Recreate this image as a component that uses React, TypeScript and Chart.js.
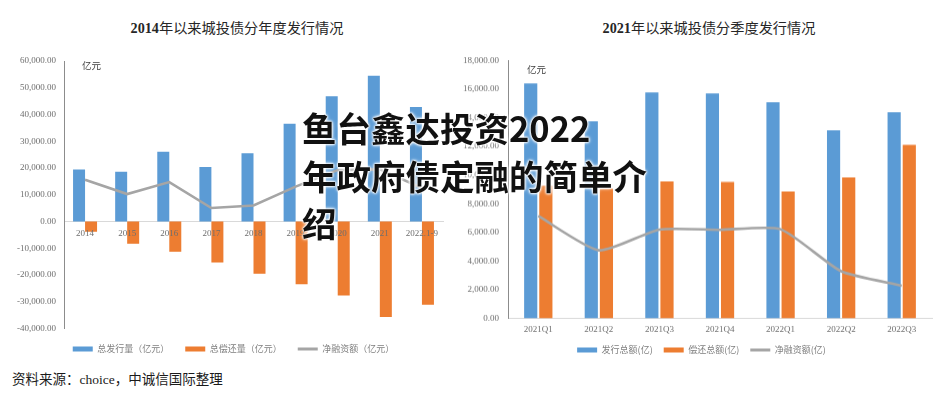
import React, { useEffect, useRef } from 'react';
import { Chart, registerables } from 'chart.js';

Chart.register(...registerables);

// ---------- data ----------
const yearCategories = ['2014', '2015', '2016', '2017', '2018', '2019', '2020', '2021', '2022.1-9'];
const yearIssuance = [19400, 18600, 26100, 20400, 25500, 36500, 46800, 54500, 42800];
const yearRepayment = [-3800, -8350, -11350, -15350, -19500, -23450, -27700, -35700, -31100];
const yearNet = [15600, 10250, 14750, 5050, 6000, 13050, 19200, 19500, 12500];
const yearSeriesNames = ['总发行量（亿元）', '总偿还量（亿元）', '净融资额（亿元）'];

const quarterCategories = ['2021Q1', '2021Q2', '2021Q3', '2021Q4', '2022Q1', '2022Q2', '2022Q3'];
const quarterIssuance = [16400, 13750, 15760, 15690, 15080, 13130, 14380];
const quarterRepayment = [9260, 9050, 9560, 9510, 8860, 9840, 12100];
const quarterNet = [7140, 4750, 6200, 6180, 6220, 3290, 2280];
const quarterSeriesNames = ['发行总额(亿)', '偿还总额(亿)', '净融资额(亿)'];

const BLUE = '#5b9bd5';
const ORANGE = '#ed7d31';
const GRAY = '#a5a5a5';
const TICK_COLOR = '#6e6e6e';
const SERIF = '"Liberation Serif", "Noto Sans CJK SC", serif';
const SANS = '"Noto Sans CJK SC", "Noto Sans", sans-serif';

const fmt = (v: number | string) =>
  Number(v).toLocaleString('en-US', { minimumFractionDigits: 2, maximumFractionDigits: 2 });

function legendLabels(chart: any) {
  const items = Chart.defaults.plugins.legend.labels.generateLabels(chart);
  items.forEach((it: any) => {
    const ds = chart.data.datasets[it.datasetIndex];
    if (ds.type === 'line') {
      it.pointStyle = 'line';
      it.lineWidth = 3;
      it.strokeStyle = GRAY;
      it.fillStyle = GRAY;
    } else {
      it.pointStyle = 'rect';
      it.lineWidth = 0;
      it.fillStyle = ds.backgroundColor;
    }
  });
  return items.sort((a: any, b: any) => a.datasetIndex - b.datasetIndex);
}

function spacer(width: number): any {
  return {
    type: 'linear',
    position: 'right',
    display: true,
    grid: { display: false, drawTicks: false },
    border: { display: false },
    ticks: { display: false },
    afterFit: (s: any) => { s.width = width; },
  };
}

function legendOptions(padding: number): any {
  return {
    position: 'bottom',
    labels: {
      usePointStyle: true,
      pointStyleWidth: 20,
      boxHeight: 5,
      padding,
      color: '#7f7f7f',
      font: { family: SANS, size: 9 },
      generateLabels: legendLabels,
    },
  };
}

function buildYearConfig(): any {
  return {
    type: 'bar',
    data: {
      labels: yearCategories,
      datasets: [
        { type: 'bar', label: yearSeriesNames[0], data: yearIssuance, backgroundColor: BLUE, order: 1, categoryPercentage: 0.57, barPercentage: 1 },
        { type: 'bar', label: yearSeriesNames[1], data: yearRepayment, backgroundColor: ORANGE, order: 1, categoryPercentage: 0.57, barPercentage: 1 },
        { type: 'line', label: yearSeriesNames[2], data: yearNet, borderColor: GRAY, backgroundColor: GRAY, borderWidth: 2.6, pointRadius: 0, tension: 0, fill: false, order: 0 },
      ],
    },
    options: {
      animation: false,
      responsive: true,
      maintainAspectRatio: false,
      layout: { padding: { left: 0, right: 0, top: 21, bottom: 0.5 } },
      plugins: {
        tooltip: { enabled: false },
        title: { display: false },
        legend: legendOptions(16),
      },
      scales: {
        x: {
          position: { y: 0 },
          grid: { display: false, drawTicks: false },
          border: { display: true, color: '#d9d9d9', width: 1 },
          ticks: { z: 1, padding: 7, color: TICK_COLOR, font: { family: SERIF, size: 9 }, maxRotation: 0, autoSkip: false },
        },
        y: {
          min: -40000,
          max: 60000,
          grid: { display: false, drawTicks: false },
          border: { display: true, color: '#8c8c8c', width: 1 },
          ticks: { stepSize: 10000, padding: 8, color: TICK_COLOR, font: { family: SERIF, size: 9 }, callback: (v: number) => fmt(v) },
          afterFit: (s: any) => { s.width = 64; },
        },
        y2: spacer(24),
      },
    },
  };
}

function buildQuarterConfig(): any {
  return {
    type: 'bar',
    data: {
      labels: quarterCategories,
      datasets: [
        { type: 'bar', label: quarterSeriesNames[0], data: quarterIssuance, backgroundColor: BLUE, order: 1, categoryPercentage: 0.5, barPercentage: 0.87 },
        { type: 'bar', label: quarterSeriesNames[1], data: quarterRepayment, backgroundColor: ORANGE, order: 1, categoryPercentage: 0.5, barPercentage: 0.87 },
        { type: 'line', label: quarterSeriesNames[2], data: quarterNet, borderColor: GRAY, backgroundColor: GRAY, borderWidth: 2.6, pointRadius: 0, tension: 0.2, fill: false, order: 0 },
      ],
    },
    options: {
      animation: false,
      responsive: true,
      maintainAspectRatio: false,
      layout: { padding: { left: 5, right: 0, top: 20.3, bottom: 0 } },
      plugins: {
        tooltip: { enabled: false },
        title: { display: false },
        legend: legendOptions(11),
      },
      scales: {
        x: {
          grid: { display: false, drawTicks: false },
          border: { display: true, color: '#d9d9d9', width: 1 },
          ticks: { padding: 6, color: TICK_COLOR, font: { family: SERIF, size: 9 }, maxRotation: 0, autoSkip: false },
          afterFit: (s: any) => { s.height = 16; },
        },
        y: {
          min: 0,
          max: 18000,
          grid: { display: false, drawTicks: false },
          border: { display: true, color: '#8c8c8c', width: 1 },
          ticks: { stepSize: 2000, padding: 9, color: TICK_COLOR, font: { family: SERIF, size: 9 }, callback: (v: number) => fmt(v) },
          afterFit: (s: any) => { s.width = 48; },
        },
        y2: spacer(11),
      },
    },
  };
}

function ChartBox(props: { build: () => any; style: React.CSSProperties }) {
  const ref = useRef<HTMLCanvasElement | null>(null);
  useEffect(() => {
    if (!ref.current) return;
    const chart = new Chart(ref.current, props.build());
    return () => chart.destroy();
  }, []);
  return (
    <div style={{ position: 'absolute', ...props.style }}>
      <canvas ref={ref} />
    </div>
  );
}

const titleStyle: React.CSSProperties = {
  position: 'absolute',
  top: 18,
  height: 19,
  lineHeight: '19px',
  textAlign: 'center',
  fontSize: 14.2,
  color: '#262626',
  fontFamily: SANS,
  whiteSpace: 'nowrap',
};

const unitStyle: React.CSSProperties = {
  position: 'absolute',
  fontSize: 9.5,
  lineHeight: '12px',
  color: '#404040',
  fontFamily: SANS,
};

export default function App() {
  return (
    <div style={{ position: 'absolute', left: 0, top: 0, width: 947, height: 416, overflow: 'hidden', background: '#fff' }}>
      <div style={{ ...titleStyle, left: 0, width: 474 }}>
        <span style={{ fontFamily: SERIF, fontWeight: 'bold' }}>2014</span>年以来城投债分年度发行情况
      </div>
      <div style={{ ...titleStyle, left: 470, width: 478 }}>
        <span style={{ fontFamily: SERIF, fontWeight: 'bold' }}>2021</span>年以来城投债分季度发行情况
      </div>

      <ChartBox build={buildYearConfig} style={{ left: 0, top: 40, width: 467, height: 324 }} />
      <ChartBox build={buildQuarterConfig} style={{ left: 455, top: 40, width: 488, height: 323.5 }} />

      <div style={{ ...unitStyle, left: 82, top: 59 }}>亿元</div>
      <div style={{ ...unitStyle, left: 527, top: 63 }}>亿元</div>

      <div style={{ position: 'absolute', left: 12, top: 371, fontSize: 13.5, lineHeight: '17px', color: '#1a1a1a', fontFamily: SERIF, whiteSpace: 'nowrap' }}>
        资料来源：choice，中诚信国际整理
      </div>

      <div
        style={{
          position: 'absolute',
          left: 302,
          top: 104,
          fontSize: 34.5,
          lineHeight: '47.5px',
          fontWeight: 'bold',
          fontFamily: SANS,
          color: '#111',
          whiteSpace: 'nowrap',
          textShadow: '0 0 2px #fff, 0 0 2px #fff, 0 0 3px #fff, 0 0 4px #fff',
          zIndex: 5,
        }}
      >
        <div>鱼台鑫达投资2022</div>
        <div>年政府债定融的简单介</div>
        <div>绍</div>
      </div>
    </div>
  );
}
